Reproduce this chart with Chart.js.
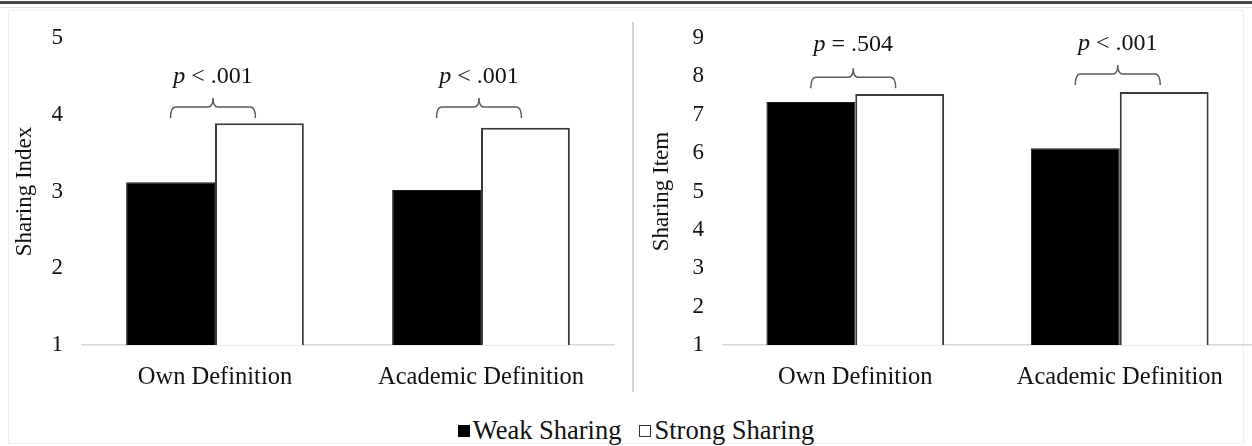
<!DOCTYPE html>
<html><head><meta charset="utf-8">
<script src="https://cdn.jsdelivr.net/npm/chart.js@4"></script>
<style>
html,body{margin:0;padding:0;background:#fff;width:1252px;height:446px;overflow:hidden;font-family:"Liberation Serif","Times New Roman",serif;}
#topdark{position:absolute;left:0;top:1px;width:1252px;height:3px;background:#4a4a4a;}
#toplight{position:absolute;left:0;top:7px;width:1252px;height:1px;background:#e2e2e2;}
#frame{position:absolute;left:8px;top:10px;width:1236px;height:434px;border:1px solid #eeeeee;box-sizing:border-box;}
#sep{position:absolute;left:632px;top:22px;width:2px;height:370px;background:#d4d4d4;}
#c1{position:absolute;left:0;top:0;}
#c2{position:absolute;left:633px;top:0;}
#legend{position:absolute;left:0;top:415px;width:1272px;display:flex;justify-content:center;align-items:center;font-size:26.5px;color:#111;}
.key{display:inline-block;width:12px;height:12px;box-sizing:border-box;margin-right:3px;}
.k1{background:#000;border:1px solid #000;}
.k2{background:#fff;border:1px solid #333;margin-left:18px;}
</style></head>
<body>
<div id="topdark"></div><div id="toplight"></div><div id="frame"></div><div id="sep"></div>
<canvas id="c1" width="633" height="400"></canvas>
<canvas id="c2" width="619" height="400"></canvas>
<div id="legend"><span class="key k1"></span><span>Weak Sharing</span><span class="key k2"></span><span>Strong Sharing</span></div>
<script>
const categories = ["Own Definition", "Academic Definition"];
const seriesNames = ["Weak Sharing", "Strong Sharing"];
// Left panel: Sharing Index
const indexWeak = [3.12, 3.02];
const indexStrong = [3.89, 3.83];
const indexTicks = [1, 2, 3, 4, 5];
const indexPLabels = ["< .001", "< .001"];
const indexBracketY = [4.10, 4.10];
const indexLabelY = [4.49, 4.49];
// Right panel: Sharing Item
const itemWeak = [7.33, 6.13];
const itemStrong = [7.54, 7.59];
const itemTicks = [1, 2, 3, 4, 5, 6, 7, 8, 9];
const itemPLabels = ["= .504", "< .001"];
const itemBracketY = [7.98, 8.06];
const itemLabelY = [8.82, 8.85];

const FONT = "'Liberation Serif', 'Times New Roman', serif";

const bracketPlugin = {
  id: 'brackets',
  afterDatasetsDraw(chart, args, opts) {
    const ctx = chart.ctx;
    const y = chart.scales.y;
    const m0 = chart.getDatasetMeta(0), m1 = chart.getDatasetMeta(1);
    for (let i = 0; i < opts.labels.length; i++) {
      const x1 = m0.data[i].x, x2 = m1.data[i].x - 4;
      const xm = (x1 + x2) / 2;
      const yh = y.getPixelForValue(opts.bracketY[i]);
      const drop = 11, tip = 9, r = 5;
      ctx.save();
      ctx.strokeStyle = '#5a5a5a';
      ctx.lineWidth = 1.5;
      ctx.beginPath();
      ctx.moveTo(x1, yh + drop);
      ctx.quadraticCurveTo(x1, yh, x1 + r, yh);
      ctx.lineTo(xm - r, yh);
      ctx.quadraticCurveTo(xm, yh, xm, yh - tip);
      ctx.quadraticCurveTo(xm, yh, xm + r, yh);
      ctx.lineTo(x2 - r, yh);
      ctx.quadraticCurveTo(x2, yh, x2, yh + drop);
      ctx.stroke();
      const ly = y.getPixelForValue(opts.labelY[i]);
      ctx.fillStyle = '#111';
      ctx.textBaseline = 'middle';
      ctx.font = 'italic 24px ' + FONT;
      const wp = ctx.measureText('p').width;
      ctx.font = '24px ' + FONT;
      const rest = ' ' + opts.labels[i];
      const wr = ctx.measureText(rest).width;
      const start = xm - (wp + wr) / 2;
      ctx.font = 'italic 24px ' + FONT;
      ctx.textAlign = 'left';
      ctx.fillText('p', start, ly);
      ctx.font = '24px ' + FONT;
      ctx.fillText(rest, start + wp, ly);
      ctx.restore();
    }
  }
};

function makeChart(id, weak, strong, ticks, title, yAxisWidth, titlePad, pl, by, lyv, padRight, catPct) {
  return new Chart(document.getElementById(id), {
    type: 'bar',
    data: {
      labels: categories,
      datasets: [
        { label: seriesNames[0], data: weak, backgroundColor: '#000000', borderColor: '#1a1a1a', borderWidth: 1 },
        { label: seriesNames[1], data: strong, backgroundColor: '#ffffff', borderColor: '#3a3a3a', borderWidth: 2 }
      ]
    },
    options: {
      responsive: false,
      animation: false,
      devicePixelRatio: 1,
      categoryPercentage: catPct,
      barPercentage: 1.0,
      layout: { padding: { left: 0, right: padRight, top: 38, bottom: 0 } },
      plugins: {
        legend: { display: false },
        tooltip: { enabled: false },
        brackets: { labels: pl, bracketY: by, labelY: lyv }
      },
      scales: {
        x: {
          grid: { display: false, drawTicks: false },
          border: { display: true, color: '#d6d6d6', width: 1.5 },
          ticks: { color: '#111', font: { family: FONT, size: 24.5 }, padding: 18 },
          afterFit(s) { s.height = 55; }
        },
        y: {
          min: ticks[0], max: ticks[ticks.length - 1],
          afterBuildTicks(s) { s.ticks = ticks.map(v => ({ value: v })); },
          grid: { display: false, drawTicks: false },
          border: { display: false },
          ticks: { color: '#111', font: { family: FONT, size: 23 }, padding: 19 },
          title: { display: true, text: title, color: '#111', font: { family: FONT, size: 23 }, padding: { top: titlePad, bottom: 0 } },
          afterFit(s) { s.width = yAxisWidth; }
        }
      }
    },
    plugins: [bracketPlugin]
  });
}

makeChart('c1', indexWeak, indexStrong, indexTicks, 'Sharing Index', 82, 11, indexPLabels, indexBracketY, indexLabelY, 19, 0.668);
makeChart('c2', itemWeak, itemStrong, itemTicks, 'Sharing Item', 90, 15, itemPLabels, itemBracketY, itemLabelY, 0, 0.672);
</script>
</body></html>
